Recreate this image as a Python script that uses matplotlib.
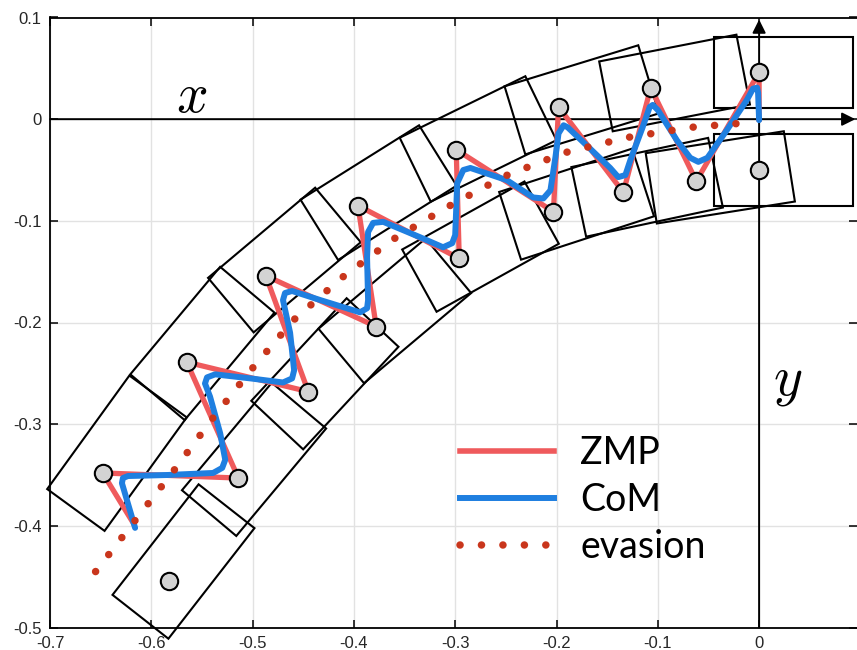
import matplotlib
matplotlib.use("Agg")
import matplotlib.pyplot as plt
from matplotlib.patches import Rectangle
from matplotlib.lines import Line2D

# footsteps in walking order: centre (x, y) and heading in degrees
step_x = [-0.583, -0.648, -0.514, -0.565, -0.445, -0.487, -0.378, -0.396, -0.296,
          -0.299, -0.203, -0.198, -0.134, -0.107, -0.062, 0.0, 0.0]
step_y = [-0.454, -0.348, -0.353, -0.239, -0.268, -0.154, -0.204, -0.085, -0.137,
          -0.030, -0.091, 0.012, -0.072, 0.031, -0.061, 0.046, -0.050]
step_heading = [52, 54, 50, 50, 47, 40, 40, 32, 29, 26, 18, 17, 12, 11, 9, 0, 0]

# foot size
foot_len = 0.138
foot_wid = 0.070
foot_back = 0.045

# ZMP reference
zmp_x = [-0.618, -0.648, -0.514, -0.565, -0.445, -0.487, -0.378, -0.396, -0.296,
         -0.299, -0.203, -0.198, -0.134, -0.107, -0.062, 0.0, 0.0]
zmp_y = [-0.397, -0.348, -0.353, -0.239, -0.268, -0.154, -0.204, -0.085, -0.137,
         -0.030, -0.091, 0.012, -0.072, 0.031, -0.061, 0.046, 0.0]

# CoM trajectory
com_x = [-0.616, -0.629, -0.628, -0.623, -0.584, -0.539, -0.530, -0.527, -0.532, -0.542,
         -0.547, -0.545, -0.537, -0.502, -0.470, -0.461, -0.459, -0.463, -0.470, -0.468,
         -0.461, -0.433, -0.394, -0.387, -0.386, -0.387, -0.386, -0.381, -0.371, -0.335,
         -0.312, -0.303, -0.300, -0.298, -0.292, -0.285, -0.249, -0.223, -0.213, -0.206,
         -0.201, -0.198, -0.193, -0.189, -0.170, -0.147, -0.139, -0.132, -0.127, -0.115,
         -0.108, -0.105, -0.100, -0.081, -0.068, -0.060, -0.051, -0.032, -0.012, -0.006,
         -0.002, -0.001, 0.000]
com_y = [-0.402, -0.358, -0.353, -0.351, -0.350, -0.348, -0.343, -0.335, -0.309, -0.273,
         -0.260, -0.254, -0.251, -0.255, -0.259, -0.255, -0.247, -0.210, -0.178, -0.171,
         -0.169, -0.178, -0.190, -0.186, -0.178, -0.136, -0.111, -0.102, -0.101, -0.116,
         -0.126, -0.122, -0.114, -0.063, -0.050, -0.048, -0.060, -0.077, -0.078, -0.070,
         -0.037, -0.014, -0.006, -0.008, -0.026, -0.048, -0.057, -0.055, -0.040, -0.008,
         0.012, 0.014, 0.009, -0.021, -0.038, -0.042, -0.038, -0.011, 0.019, 0.030,
         0.031, 0.026, -0.001]

# evasion path
eva_x = [-0.655, -0.617, -0.578, -0.540, -0.501, -0.460, -0.412, -0.361, -0.307,
         -0.251, -0.192, -0.130, -0.067, -0.005]
eva_y = [-0.445, -0.396, -0.346, -0.295, -0.246, -0.198, -0.156, -0.118, -0.086,
         -0.056, -0.033, -0.018, -0.008, -0.003]

xticks = [-0.7, -0.6, -0.5, -0.4, -0.3, -0.2, -0.1, 0]
yticks = [-0.5, -0.4, -0.3, -0.2, -0.1, 0, 0.1]

red = "#ef5a5c"
blue = "#1f7fe0"
dot_col = "#c9361c"
dot_lw = 5.4
dot_style = (0, (0.01, 2.85))

plt.rcParams["axes.unicode_minus"] = False
plt.rcParams["mathtext.fontset"] = "cm"

fig = plt.figure(figsize=(8.57, 6.5), dpi=100)
ax = fig.add_axes([50 / 857, 22.5 / 650, 807 / 857, 610 / 650])
ax.set_xlim(-0.7, -0.7 + 807 / 1013)
ax.set_ylim(-0.5, 0.1)

ax.set_xticks(xticks)
ax.set_xticklabels(["%g" % t for t in xticks])
ax.set_yticks(yticks)
ax.set_yticklabels(["%g" % t for t in yticks])
ax.tick_params(direction="in", length=6, width=1.1, top=True, right=True,
               labelsize=12, labelcolor="#262626")
ax.tick_params(axis="x", pad=6)
ax.tick_params(axis="y", pad=6)
ax.grid(True, color="#e2e2e2", lw=1.0)
ax.set_axisbelow(True)
for s in ["left", "bottom", "top"]:
    ax.spines[s].set_linewidth(1.3)
ax.spines["right"].set_visible(False)
for lab in ax.get_xticklabels() + ax.get_yticklabels():
    lab.set_family("Liberation Sans")

# feet
for cx, cy, h in zip(step_x, step_y, step_heading):
    r = Rectangle((cx - foot_back, cy - foot_wid / 2), foot_len, foot_wid,
                  angle=h, rotation_point=(cx, cy), fill=False,
                  ec="black", lw=1.5, clip_on=False, zorder=2)
    ax.add_patch(r)

# world axes with arrows
ax.annotate("", xy=(0.095, 0), xytext=(-0.7, 0),
            arrowprops=dict(arrowstyle="-|>", color="black", lw=1.4,
                            mutation_scale=20, shrinkA=0, shrinkB=0), zorder=3)
ax.annotate("", xy=(0, 0.098), xytext=(0, -0.5),
            arrowprops=dict(arrowstyle="-|>", color="black", lw=1.4,
                            mutation_scale=20, shrinkA=0, shrinkB=0), zorder=3)
ax.text(-0.56, 0.022, "$x$", fontsize=40, ha="center", va="center")
ax.text(0.028, -0.258, "$y$", fontsize=40, ha="center", va="center")

ax.plot(zmp_x, zmp_y, color=red, lw=3.8, solid_joinstyle="miter", zorder=4)
ax.plot(com_x, com_y, color=blue, lw=4.3, solid_joinstyle="round",
        solid_capstyle="round", zorder=5)
ax.plot(eva_x, eva_y, color=dot_col, lw=dot_lw, linestyle=dot_style,
        dash_capstyle="round", zorder=6)
ax.plot(step_x, step_y, linestyle="none", marker="o", ms=12.5, mfc="#d3d3d3",
        mec="black", mew=1.5, zorder=7)

handles = [Line2D([], [], color=red, lw=4.0),
           Line2D([], [], color=blue, lw=4.3),
           Line2D([], [], color=dot_col, lw=dot_lw, linestyle=dot_style,
                  dash_capstyle="round")]
leg = ax.legend(handles, ["ZMP", "CoM", "evasion"], loc="upper left",
                bbox_to_anchor=(460 / 857, 1 - 435 / 650), bbox_transform=fig.transFigure,
                frameon=False, handlelength=2.5, handletextpad=0.7,
                labelspacing=0.3, borderpad=0, borderaxespad=0,
                prop={"family": "Lato", "size": 27})

fig.savefig("out.png", dpi=100)
